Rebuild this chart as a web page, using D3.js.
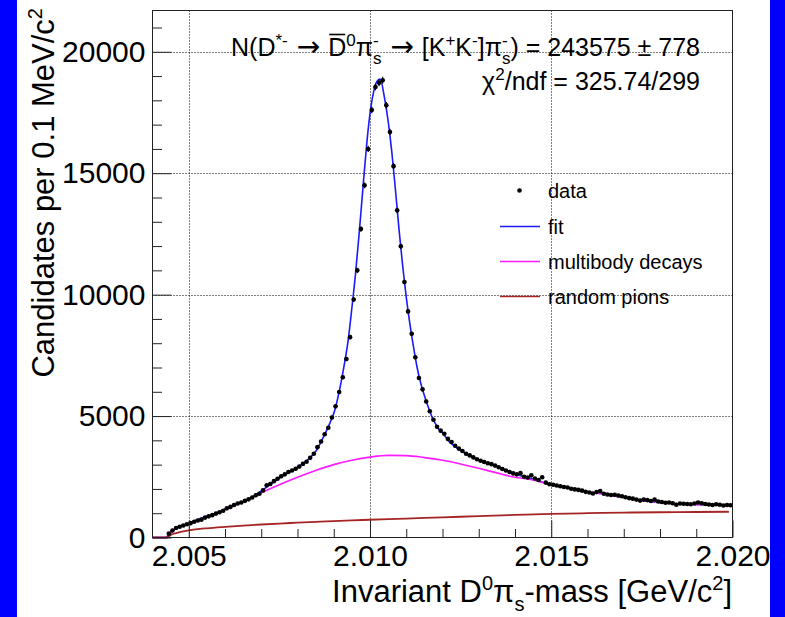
<!DOCTYPE html>
<html>
<head>
<meta charset="utf-8">
<script src="https://cdn.jsdelivr.net/npm/d3@7"></script>
<style>
body{margin:0;background:#0000ff;}
svg{display:block;}
text{font-family:"Liberation Sans",Arial,Helvetica,sans-serif;fill:#000;}
</style>
</head>
<body>
<div id="chart"></div>
<script>
// histogram binning (GeV)
var massMin = 2.004, massMax = 2.020, binWidth = 0.0001;

// candidates per 0.1 MeV bin
var dataCounts = [
    0, 0, 0, 0, 160, 290, 390, 440, 495, 545,
    590, 650, 700, 735, 820, 870, 920, 985, 1040, 1100,
    1200, 1260, 1340, 1400, 1440, 1510, 1570, 1650, 1740, 1800,
    1940, 2150, 2200, 2320, 2420, 2520, 2600, 2700, 2760, 2830,
    2920, 3030, 3120, 3280, 3450, 3720, 3950, 4250, 4520, 4940,
    5400, 5990, 6600, 7350, 8250, 9800, 11000, 12700, 14500, 16000,
    17600, 18550, 18720, 18830, 17800, 16700, 15290, 13470, 11990, 10520,
    9310, 8390, 7420, 6570, 6100, 5600, 5200, 4850, 4560, 4400,
    4270, 4060, 3930, 3780, 3660, 3560, 3450, 3380, 3300, 3220,
    3160, 3110, 3060, 3020, 2960, 2890, 2820, 2760, 2700, 2640,
    2600, 2650, 2500, 2470, 2560, 2430, 2370, 2480, 2260, 2190,
    2170, 2140, 2110, 2080, 2060, 2010, 1980, 1960, 1930, 1880,
    1850, 1810, 1870, 1910, 1800, 1770, 1750, 1760, 1730, 1700,
    1660, 1620, 1600, 1560, 1520, 1560, 1540, 1500, 1560, 1480,
    1460, 1430, 1440, 1410, 1350, 1400, 1390, 1380, 1370, 1400,
    1440, 1410, 1380, 1360, 1340, 1370, 1350, 1320, 1340, 1330
];

// total fit
var fitMass = [2.0040, 2.00437, 2.00448, 2.00466, 2.00484, 2.00498, 2.00521, 2.00549, 2.00577, 2.00604,
    2.00632, 2.00659, 2.00687, 2.00714, 2.00742, 2.00770, 2.00797, 2.00825, 2.00852, 2.00871,
    2.00889, 2.00903, 2.00912, 2.00921, 2.0093, 2.0094, 2.0095, 2.0096, 2.0097, 2.0098,
    2.0099, 2.0100, 2.0101, 2.0102, 2.01028, 2.0104, 2.0105, 2.0106, 2.0107, 2.0108,
    2.0109, 2.0110, 2.0111, 2.0112, 2.0113, 2.0114, 2.0115, 2.0116, 2.0117, 2.0118,
    2.0119, 2.0120, 2.0122, 2.0124, 2.0126, 2.0128, 2.0130, 2.0132, 2.0134, 2.0136,
    2.0138, 2.0140, 2.0142, 2.0144, 2.0146, 2.0148, 2.0150, 2.0155, 2.0160, 2.0165,
    2.0170, 2.0175, 2.0180, 2.0185, 2.0190, 2.0195, 2.0200];
var fitVals = [0, 0, 180, 390, 500, 570, 720, 870, 1020, 1190,
    1380, 1540, 1780, 2060, 2360, 2630, 2870, 3160, 3580, 4120,
    4700, 5250, 5800, 6450, 7200, 8150, 9450, 10850, 12500, 14300,
    16050, 17450, 18350, 18800, 18880, 18100, 17150, 15900, 14350, 12700,
    11200, 9900, 8800, 7850, 7000, 6350, 5850, 5400, 5000, 4700,
    4450, 4300, 3920, 3680, 3500, 3330, 3190, 3090, 3000, 2860,
    2750, 2620, 2520, 2440, 2360, 2260, 2170, 2040, 1880, 1780,
    1650, 1530, 1440, 1390, 1365, 1345, 1320];

// multibody decays component
var multiMass = [2.0040, 2.00441, 2.0045, 2.0047, 2.0050, 2.0055, 2.0060, 2.0065, 2.0070, 2.0075,
    2.0080, 2.0085, 2.0090, 2.0095, 2.0100, 2.0105, 2.0110, 2.0115, 2.0120, 2.0125,
    2.0130, 2.0135, 2.0140, 2.0145, 2.0150, 2.0155, 2.0160, 2.0165, 2.0170, 2.0175,
    2.0180, 2.0185, 2.0190, 2.0195, 2.0200];
var multiVals = [0, 0, 170, 430, 580, 860, 1160, 1480, 1840, 2170,
    2480, 2760, 3000, 3180, 3310, 3380, 3370, 3290, 3180, 3030,
    2850, 2660, 2480, 2370, 2170, 2040, 1880, 1780, 1650, 1530,
    1440, 1390, 1365, 1345, 1320];

// random pions component
var randMass = [2.0040, 2.00441, 2.0045, 2.0047, 2.0050, 2.0055, 2.0060, 2.0065, 2.0070, 2.0075,
    2.0080, 2.0085, 2.0090, 2.0095, 2.0100, 2.0110, 2.0120, 2.0130, 2.0140, 2.0150,
    2.0160, 2.0170, 2.0180, 2.0190, 2.0199];
var randVals = [0, 0, 100, 200, 290, 380, 440, 490, 535, 575,
    610, 645, 675, 705, 730, 780, 830, 880, 930, 975,
    1000, 1025, 1040, 1050, 1060];

var xMajor = [2.005, 2.010, 2.015, 2.020];
var xMinor = [2.006, 2.007, 2.008, 2.009, 2.011, 2.012, 2.013, 2.014, 2.016, 2.017, 2.018, 2.019];
var yMajor = [0, 5000, 10000, 15000, 20000];
var yMinor = [1000, 2000, 3000, 4000, 6000, 7000, 8000, 9000, 11000, 12000, 13000, 14000,
    16000, 17000, 18000, 19000, 21000];
var yMax = 21700;

var legendLabels = ["data", "fit", "multibody decays", "random pions"];
var legendColors = ["#000", "#1a1aff", "#ff1aff", "#a52525"];

var width = 785, height = 617;
var plot = {left:152.5, right:732.5, top:10.5, bottom:537.5};

var svg = d3.select('#chart').append('svg').attr('width', width).attr('height', height);
svg.append('rect').attr('x', 17).attr('y', 0).attr('width', 753).attr('height', height).attr('fill', '#fff');

var x = d3.scaleLinear().domain([massMin, massMax]).range([plot.left, plot.right]);
var y = d3.scaleLinear().domain([0, yMax]).range([plot.bottom, plot.top]);

// grid
var grid = svg.append('g').attr('stroke', '#000').attr('stroke-width', 1).attr('stroke-dasharray', '1,2');
grid.selectAll('line.gx').data(xMajor.filter(function(d){return d < massMax;})).enter().append('line')
    .attr('x1', function(d){return Math.round(x(d)) + 0.5;}).attr('x2', function(d){return Math.round(x(d)) + 0.5;})
    .attr('y1', plot.top).attr('y2', plot.bottom);
grid.selectAll('line.gy').data(yMajor.filter(function(d){return d > 0;})).enter().append('line')
    .attr('y1', function(d){return Math.round(y(d)) + 0.5;}).attr('y2', function(d){return Math.round(y(d)) + 0.5;})
    .attr('x1', plot.left).attr('x2', plot.right);

// curves
function zip(a, b){ return a.map(function(v, i){ return [v, b[i]]; }); }
var line = d3.line().x(function(d){return x(d[0]);}).y(function(d){return y(d[1]);}).curve(d3.curveMonotoneX);

svg.append('path').datum(zip(fitMass, fitVals)).attr('d', line)
    .attr('fill', 'none').attr('stroke', legendColors[1]).attr('stroke-width', 1.6);
svg.append('path').datum(zip(multiMass, multiVals)).attr('d', line)
    .attr('fill', 'none').attr('stroke', legendColors[2]).attr('stroke-width', 1.6);
svg.append('path').datum(zip(randMass, randVals)).attr('d', line)
    .attr('fill', 'none').attr('stroke', legendColors[3]).attr('stroke-width', 1.8);

// data points with errors
var pts = dataCounts.map(function(c, i){
    return {lo: massMin + i * binWidth, hi: massMin + (i + 1) * binWidth, c: c};
}).filter(function(d){ return d.c > 0; });
var pg = svg.append('g').attr('stroke', '#000').attr('stroke-width', 1.2);
pg.selectAll('line.ex').data(pts).enter().append('line')
    .attr('x1', function(d){return x(d.lo);}).attr('x2', function(d){return x(d.hi);})
    .attr('y1', function(d){return y(d.c);}).attr('y2', function(d){return y(d.c);});
pg.selectAll('line.ey').data(pts).enter().append('line')
    .attr('x1', function(d){return x((d.lo + d.hi) / 2);}).attr('x2', function(d){return x((d.lo + d.hi) / 2);})
    .attr('y1', function(d){return y(d.c - Math.sqrt(d.c));}).attr('y2', function(d){return y(d.c + Math.sqrt(d.c));});
svg.append('g').selectAll('circle').data(pts).enter().append('circle')
    .attr('cx', function(d){return x((d.lo + d.hi) / 2);}).attr('cy', function(d){return y(d.c);})
    .attr('r', 2.3).attr('fill', '#000');

// axes, ticks pointing inwards
function styleAxis(g){
    g.select('.domain').remove();
    g.selectAll('line').attr('stroke', '#222');
    g.selectAll('text').style('font-size', '30px').attr('fill', '#000');
}
svg.append('g').attr('transform', 'translate(0,' + plot.bottom + ')')
    .call(d3.axisBottom(x).tickValues(xMajor).tickSize(-17).tickPadding(7).tickFormat(d3.format('.3f')))
    .call(styleAxis);
svg.append('g').attr('transform', 'translate(0,' + plot.bottom + ')')
    .call(d3.axisBottom(x).tickValues(xMinor).tickSize(-8.5).tickFormat(''))
    .call(styleAxis);
svg.append('g').attr('transform', 'translate(' + plot.left + ',0)')
    .call(d3.axisLeft(y).tickValues(yMajor).tickSize(-19).tickPadding(7).tickFormat(d3.format('d')))
    .call(styleAxis);
svg.append('g').attr('transform', 'translate(' + plot.left + ',0)')
    .call(d3.axisLeft(y).tickValues(yMinor).tickSize(-9.5).tickFormat(''))
    .call(styleAxis);

// frame
svg.append('rect').attr('x', plot.left).attr('y', plot.top)
    .attr('width', plot.right - plot.left).attr('height', plot.bottom - plot.top)
    .attr('fill', 'none').attr('stroke', '#222').attr('stroke-width', 1);

// text with super/subscripts; parts: [text, mode]
function richText(g, parts, tx, ty, size, anchor, transform){
    var t = g.append('text').attr('x', tx).attr('y', ty).attr('text-anchor', anchor)
        .style('font-size', size + 'px');
    if(transform) t.attr('transform', transform);
    var small = Math.round(size * 0.66), up = size * 0.4, down = size * 0.3, cur = 0;
    var bars = [];
    parts.forEach(function(p){
        var mode = p[1] || '';
        if(mode === 'sup'){
            t.append('tspan').attr('dy', -up - cur).style('font-size', small + 'px').text(p[0]);
            cur = -up;
        } else if(mode === 'sub'){
            t.append('tspan').attr('dy', down - cur).style('font-size', small + 'px').text(p[0]);
            cur = down;
        } else if(mode === 'supsub'){
            var s = p[0].split('|');
            var a = t.append('tspan').attr('dy', -up - cur).style('font-size', small + 'px').text(s[0]);
            var w = a.node().getComputedTextLength();
            t.append('tspan').attr('dx', -w).attr('dy', up + down).style('font-size', small + 'px').text(s[1]);
            cur = down;
        } else if(mode === 'arrow'){
            t.append('tspan').attr('dy', -cur).attr('dx', 2).style('font-family', '"DejaVu Sans"')
                .style('font-size', Math.round(size * 1.1) + 'px').text('\u2192');
            t.append('tspan').attr('dx', 1).text(' ');
            cur = 0;
        } else {
            var n = t.append('tspan').attr('dy', -cur).text(p[0]);
            cur = 0;
            if(mode === 'bar') bars.push(n.node());
        }
    });
    bars.forEach(function(node){
        var a = node.getStartPositionOfChar(0), b = node.getEndPositionOfChar(node.getNumberOfChars() - 1);
        g.append('line').attr('x1', a.x + 1).attr('x2', b.x - 1)
            .attr('y1', ty - size * 0.86).attr('y2', ty - size * 0.86)
            .attr('stroke', '#000').attr('stroke-width', 1.6);
    });
    return t;
}

richText(svg, [['Invariant D'], ['0', 'sup'], ['\u03c0'], ['s', 'sub'], ['-mass [GeV/c'], ['2', 'sup'], [']']],
    732, 602, 31, 'end');
richText(svg, [['Candidates per 0.1 MeV/c'], ['2', 'sup']], -8, 54, 31, 'end', 'rotate(-90)');

richText(svg, [['N(D'], ['*-', 'sup'], [' '], ['', 'arrow'], ['D', 'bar'], ['0', 'sup'], ['\u03c0'], ['-|s', 'supsub'],
    [' '], ['', 'arrow'], ['[K'], ['+', 'sup'], ['K'], ['-', 'sup'], [']\u03c0'], ['-|s', 'supsub'], [') = 243575 \u00b1 778']],
    700, 56, 25, 'end');
richText(svg, [['\u03c7'], ['2', 'sup'], ['/ndf = 325.74/299']], 700, 90, 25, 'end');

// legend
var legendY = [190.5, 226.5, 261.5, 296.5];
var lg = svg.append('g');
lg.append('circle').attr('cx', 519.5).attr('cy', legendY[0]).attr('r', 2.3).attr('fill', '#000');
lg.selectAll('line').data(legendLabels.slice(1)).enter().append('line')
    .attr('x1', 500).attr('x2', 540)
    .attr('y1', function(d, i){return legendY[i + 1];}).attr('y2', function(d, i){return legendY[i + 1];})
    .attr('stroke', function(d, i){return legendColors[i + 1];}).attr('stroke-width', 1.6);
lg.selectAll('text').data(legendLabels).enter().append('text')
    .attr('x', 548).attr('y', function(d, i){return legendY[i];}).attr('dy', '0.35em')
    .style('font-size', '20px').text(function(d){return d;});

// side bands of the canvas
svg.append('rect').attr('x', 0).attr('y', 0).attr('width', 17).attr('height', height).attr('fill', '#0000ff');
svg.append('rect').attr('x', 770).attr('y', 0).attr('width', 15).attr('height', height).attr('fill', '#0000ff');
</script>
</body>
</html>
